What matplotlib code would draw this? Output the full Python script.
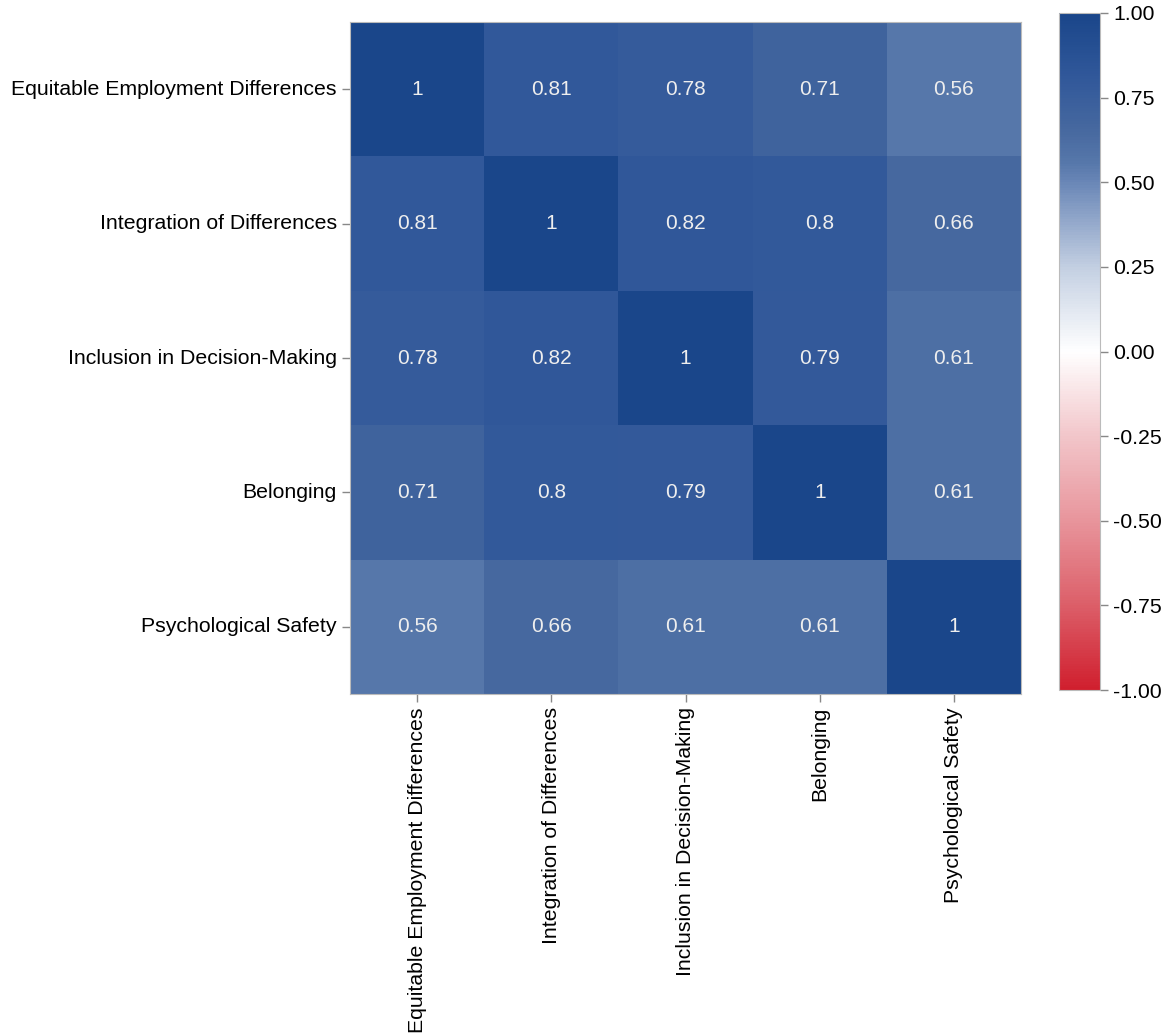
import numpy as np
import matplotlib.pyplot as plt
import seaborn as sns
from matplotlib.colors import LinearSegmentedColormap

labels = ['Equitable Employment Differences', 'Integration of Differences',
          'Inclusion in Decision-Making', 'Belonging', 'Psychological Safety']
corr = np.array([
    [1.00, 0.81, 0.78, 0.71, 0.56],
    [0.81, 1.00, 0.82, 0.80, 0.66],
    [0.78, 0.82, 1.00, 0.79, 0.61],
    [0.71, 0.80, 0.79, 1.00, 0.61],
    [0.56, 0.66, 0.61, 0.61, 1.00],
])
cbar_ticks = [-1.0, -0.75, -0.5, -0.25, 0.0, 0.25, 0.5, 0.75, 1.0]

plt.rcParams['font.family'] = ['Liberation Sans', 'DejaVu Sans']

# red - white - blue, darker towards the high end
stops = [(0.0, '#d01f2e'), (0.125, '#dc5f69'), (0.25, '#e8959c'),
         (0.375, '#f2c6ca'), (0.5, '#ffffff'), (0.625, '#c3cfe2'),
         (0.75, '#6a87b7'), (0.78, '#5677aa'), (0.83, '#46689f'),
         (0.905, '#31589a'), (1.0, '#1a468a')]
cmap = LinearSegmentedColormap.from_list('rwb', stops)

W, H = 1166, 1034
fig = plt.figure(figsize=(W / 100, H / 100), dpi=100)
ax = fig.add_axes([350 / W, 1 - 694 / H, 671 / W, 672 / H])
cax = fig.add_axes([1059 / W, 1 - 690 / H, 41 / W, 677 / H])

sns.heatmap(corr, ax=ax, cbar_ax=cax, cmap=cmap, vmin=-1, vmax=1,
            annot=True, fmt='.2g', annot_kws={'size': 15, 'color': '#eeeeee'},
            xticklabels=labels, yticklabels=labels)

ax.tick_params(axis='both', labelsize=15.3, color='#888888', length=6, width=1)
ax.set_xticklabels(labels, rotation=90)
ax.set_yticklabels(labels, rotation=0)
for s in ax.spines.values():
    s.set_visible(True)
    s.set_color('#bbbbbb')
    s.set_linewidth(0.8)

cbar = ax.collections[0].colorbar
cbar.set_ticks(cbar_ticks)
cbar.set_ticklabels(['%.2f' % t for t in cbar_ticks])
cbar.ax.tick_params(labelsize=15.3, color='#888888', length=6, width=1)
cbar.outline.set_visible(True)
cbar.outline.set_edgecolor('#bbbbbb')
cbar.outline.set_linewidth(0.8)

plt.savefig('out.png', dpi=100)
